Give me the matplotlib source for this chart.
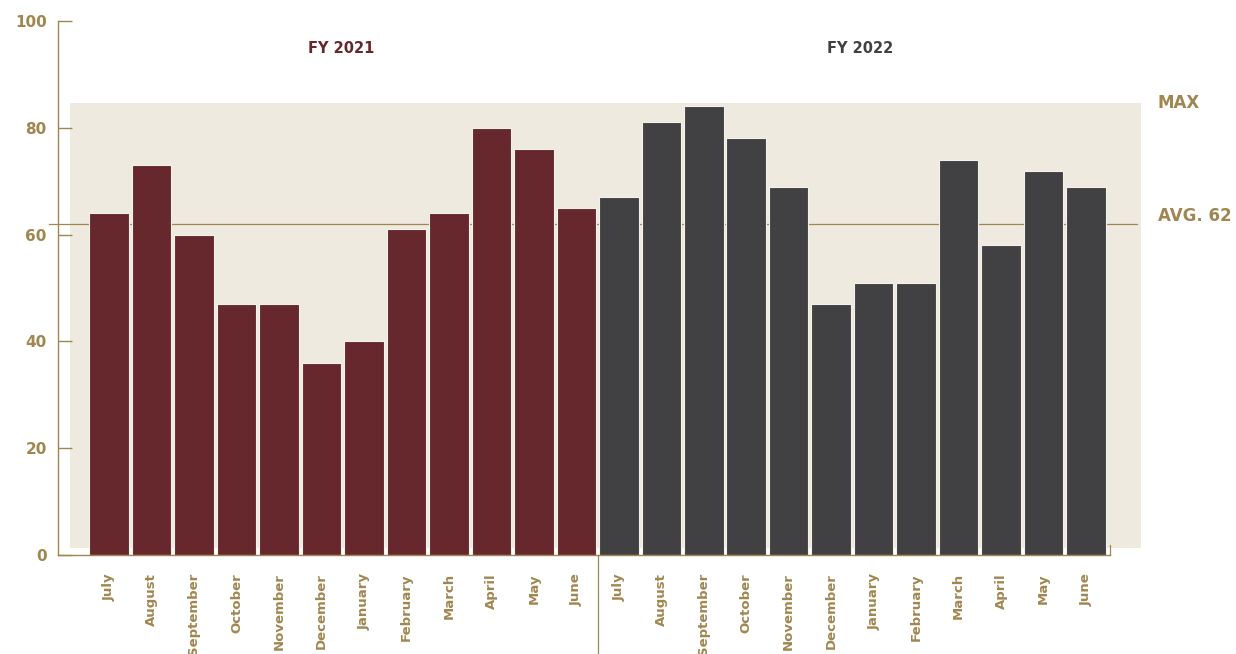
import matplotlib.pyplot as plt
import numpy as np

# Monthly values for two fiscal years
months = ['July', 'August', 'September', 'October', 'November', 'December',
          'January', 'February', 'March', 'April', 'May', 'June']
fy2021 = [64, 73, 60, 47, 47, 36, 40, 61, 64, 80, 76, 65]
fy2022 = [67, 81, 84, 78, 69, 47, 51, 51, 74, 58, 72, 69]
avg_value = 62
year_labels = ['FY 2021', 'FY 2022']

gold = '#a08650'
maroon = '#66272d'
charcoal = '#414042'
band = '#eeeae0'

fig = plt.figure(figsize=(12.36, 6.54), dpi=100)
ax = fig.add_axes([0.0469, 0.1514, 0.8511, 0.8165])

values = fy2021 + fy2022
x = np.arange(len(values))
colors = [maroon] * len(fy2021) + [charcoal] * len(fy2022)
max_value = max(values)

# Shaded range up to the maximum
ax.add_patch(plt.Rectangle((-0.92, 1.3), 25.2, max_value + 0.6 - 1.3,
                           facecolor=band, edgecolor='none', zorder=0,
                           clip_on=False))

ax.bar(x, values, width=0.93, color=colors, edgecolor='#f4f1ea',
       linewidth=0.8, zorder=2)

# Average line
ax.plot([-1.4, 24.2], [avg_value, avg_value], color=gold, lw=0.9,
        zorder=1, clip_on=False)

ax.set_xlim(-1.2, 23.56)
ax.set_ylim(0, 100)

for s in ['top', 'right']:
    ax.spines[s].set_visible(False)
for s in ['left', 'bottom']:
    ax.spines[s].set_color(gold)
    ax.spines[s].set_linewidth(1.0)

ax.set_yticks([0, 20, 40, 60, 80, 100])
ax.tick_params(axis='y', direction='in', length=10, width=1.0, color=gold,
               pad=8, labelcolor=gold, labelsize=11)
for lbl in ax.get_yticklabels():
    lbl.set_fontweight('bold')

ax.set_xticks(x)
ax.set_xticklabels(months + months, rotation=90, va='top', ha='center',
                   fontsize=9.5, fontweight='bold', color=gold)
ax.tick_params(axis='x', length=0, pad=13)

# Divider between fiscal years and end tick
ax.plot([11.5, 11.5], [0, -18.5], color=gold, lw=0.9, clip_on=False)
ax.plot([23.56, 23.56], [0, 1.9], color=gold, lw=0.9, clip_on=False)

ax.text(5.46, 94.9, year_labels[0], color=maroon, fontsize=10.5,
        fontweight='bold', ha='center', va='center')
ax.text(17.68, 94.9, year_labels[1], color=charcoal, fontsize=10.5,
        fontweight='bold', ha='center', va='center')

ax.text(24.68, 84.6, 'MAX', color=gold, fontsize=12, fontweight='bold',
        ha='left', va='center', clip_on=False)
ax.text(24.68, 63.4, f'AVG. {avg_value}', color=gold, fontsize=12,
        fontweight='bold', ha='left', va='center', clip_on=False)

fig.savefig('out.png', dpi=100)
